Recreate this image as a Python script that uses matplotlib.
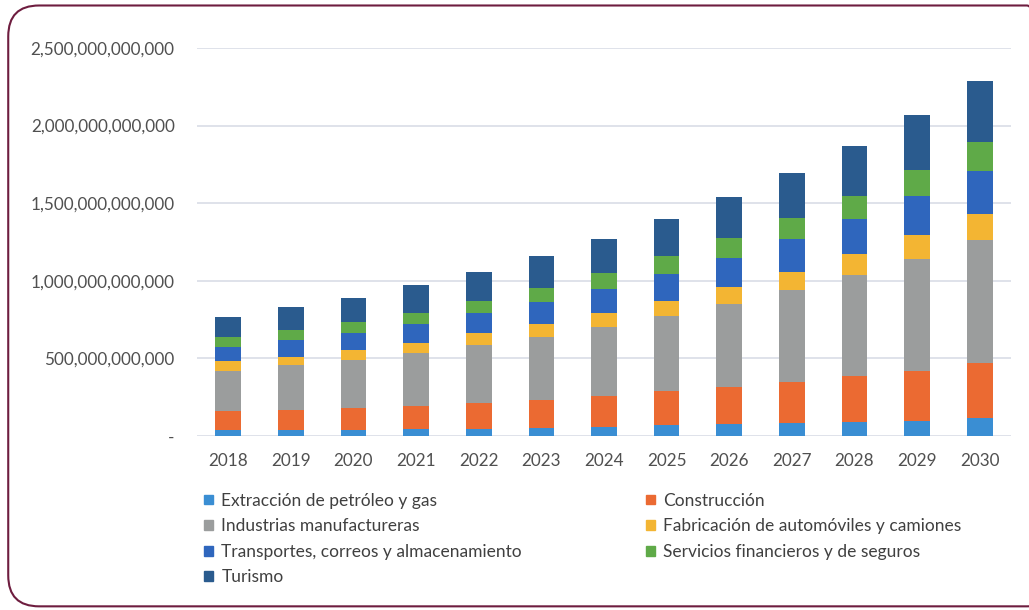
import numpy as np
import matplotlib.pyplot as plt
from matplotlib.patches import FancyBboxPatch, Patch
from matplotlib.ticker import FuncFormatter

# Datos (miles de millones)
anios = ['2018', '2019', '2020', '2021', '2022', '2023', '2024',
         '2025', '2026', '2027', '2028', '2029', '2030']
extraccion = [41, 41, 41, 45, 45, 53, 60, 69, 77, 84, 92, 99, 114]
construccion = [118, 127, 142, 150, 167, 180, 198, 219, 238, 264, 292, 322, 354]
manufactura = [261, 290, 309, 339, 374, 404, 442, 487, 536, 592, 652, 719, 796]
automoviles = [61, 53, 64, 66, 75, 84, 90, 97, 109, 120, 137, 155, 164]
transportes = [90, 108, 106, 122, 129, 144, 157, 174, 189, 208, 223, 253, 279]
financieros = [66, 66, 75, 73, 79, 90, 105, 112, 126, 137, 150, 167, 189]
turismo = [129, 144, 153, 176, 187, 202, 219, 240, 264, 292, 325, 352, 389]

series = [
    ('Extracción de petróleo y gas', extraccion, '#3a8ed3'),
    ('Construcción', construccion, '#eb6a32'),
    ('Industrias manufactureras', manufactura, '#9b9d9d'),
    ('Fabricación de automóviles y camiones', automoviles, '#f3b533'),
    ('Transportes, correos y almacenamiento', transportes, '#2f66bd'),
    ('Servicios financieros y de seguros', financieros, '#5faa48'),
    ('Turismo', turismo, '#2a5b8e'),
]

plt.rcParams['font.family'] = ['Lato', 'DejaVu Sans']

fig = plt.figure(figsize=(10.29, 6.10), dpi=100)
ax = fig.add_axes([0.1914, 0.2852, 0.7911, 0.6361])

x = np.arange(len(anios))
base = np.zeros(len(anios))
for nombre, vals, color in series:
    v = np.array(vals) * 1e9
    ax.bar(x, v, bottom=base, width=0.41, color=color, edgecolor='none', zorder=3)
    base += v

ax.set_xlim(-0.5, len(anios) - 0.5)
ax.set_ylim(0, 2.5e12)
ax.set_yticks(np.arange(0, 2.5e12 + 1, 5e11))
ax.yaxis.set_major_formatter(FuncFormatter(lambda v, p: '-' if v == 0 else f'{v:,.0f}'))
ax.set_xticks(x)
ax.set_xticklabels(anios)
ax.grid(axis='y', color='#d9dde6', linewidth=1.2, zorder=0)
for s in ax.spines.values():
    s.set_visible(False)
ax.tick_params(axis='both', length=0, labelsize=12.3, colors='#505050')
ax.tick_params(axis='y', pad=16)
ax.tick_params(axis='x', pad=12)

# leyenda en dos columnas (orden por filas)
handles = [Patch(color=c) for n, v, c in series]
nombres = [n for n, v, c in series]
orden = [0, 2, 4, 6, 1, 3, 5]
leg = fig.legend([handles[i] for i in orden], [nombres[i] for i in orden],
                 ncol=2, loc='upper left', bbox_to_anchor=(0.183, 0.218), frameon=False,
                 fontsize=12.5, handlelength=0.5, handleheight=0.5, handletextpad=0.5,
                 columnspacing=7.15, labelspacing=0.55, labelcolor='#404040')

# borde redondeado
borde = FancyBboxPatch((0.008, 0.006), 1.02, 0.985, boxstyle='round,pad=0,rounding_size=0.03',
                       transform=fig.transFigure, facecolor='none', edgecolor='#6e1d3f',
                       linewidth=1.5, mutation_aspect=1.69)
fig.patches.append(borde)

fig.savefig('out.png', dpi=100)
